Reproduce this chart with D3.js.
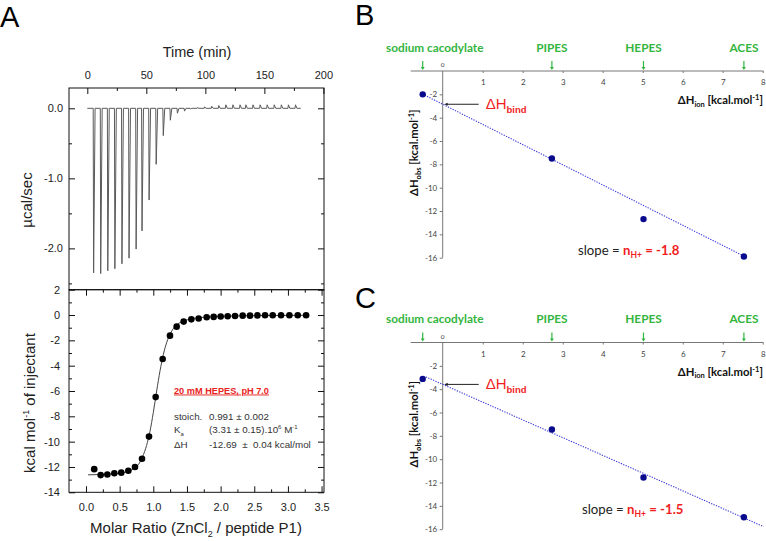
<!DOCTYPE html>
<html><head><meta charset="utf-8">
<script src="https://cdn.jsdelivr.net/npm/d3@7"></script>
<style>
body{margin:0;background:#fff}
svg{display:block}
text{white-space:pre}
</style>
</head><body>
<svg id="c" width="766" height="541"></svg>
<script>
// ---------- DATA ----------
// Panel A, raw ITC trace
const injTimes = [5,11,17,23,29,35,41,46,52,58,64,70,76,82,87,93,99,105,111,117,123,129,134,140,146,152,158,164,170,176];
const injPeaks = [-2.35,-2.36,-2.32,-2.29,-2.22,-2.14,-2.01,-1.75,-1.31,-0.80,-0.39,-0.17,-0.07,-0.04,-0.01,0.01,0.02,0.03,0.04,0.05,0.05,0.05,0.05,0.05,0.05,0.05,0.05,0.05,0.05,0.05];
const traceEnd = 180.8;
const timeTicks = [0,50,100,150,200];
const timeMinor = [25,75,125,175];
const ucalTicks = [0,-1,-2];
const ucalMinor = [-0.5,-1.5,-2.5];
// Panel A, integrated heats
const molarRatio = [0.122,0.218,0.317,0.421,0.524,0.629,0.728,0.832,0.936,1.035,1.139,1.248,1.347,1.451,1.565,1.674,1.793,1.897,2.001,2.105,2.214,2.328,2.437,2.546,2.660,2.774,2.898,3.022,3.146,3.270];
const heatPerMol = [-12.17,-12.64,-12.6,-12.5,-12.45,-12.3,-12.0,-11.35,-9.6,-6.48,-3.47,-1.63,-0.92,-0.52,-0.34,-0.28,-0.18,-0.15,-0.12,-0.10,-0.08,-0.05,-0.05,-0.03,-0.02,-0.02,-0.02,-0.02,-0.02,-0.02];
const fitRatio = [0.03,0.2,0.4,0.55,0.65,0.72,0.78,0.84,0.9,0.95,1.0,1.05,1.1,1.15,1.2,1.25,1.3,1.38,1.46,1.55,1.7,1.9,2.2,2.6,3.0,3.27];
const fitHeat = [-12.62,-12.6,-12.55,-12.45,-12.3,-12.1,-11.8,-11.2,-10.3,-9.2,-7.7,-6.0,-4.4,-3.1,-2.15,-1.5,-1.05,-0.65,-0.45,-0.32,-0.2,-0.12,-0.07,-0.04,-0.03,-0.02];
const ratioTicks = [0,0.5,1,1.5,2,2.5,3,3.5];
const ratioMinor = [0.25,0.75,1.25,1.75,2.25,2.75,3.25];
const kcalTicks = [2,0,-2,-4,-6,-8,-10,-12,-14];
const kcalMinor = [1,-1,-3,-5,-7,-9,-11,-13];
// Panels B and C
const buffers = ["sodium cacodylate","PIPES","HEPES","ACES"];
const dHion = [-0.5,2.73,5.02,7.53];
const dHobsB = [-2.0,-7.5,-12.69,-15.9];
const dHobsC = [-3.12,-7.45,-11.57,-14.97];
const fitBx = [-0.45,7.55], fitBy = [-2.07,-15.9];
const fitCx = [-0.42,8.02], fitCy = [-2.95,-15.78];
const dHbindB = -2.85, dHbindC = -3.59;
const ionTicks = [1,2,3,4,5,6,7,8];
const obsTicks = [-2,-4,-6,-8,-10,-12,-14,-16];

// ---------- DRAW ----------
const svg = d3.select("#c");
const FA = "'Liberation Sans', Arial, sans-serif";
const FB = "Lato, 'Open Sans', sans-serif";
const fmt1 = d => d.toFixed(1);
const fmt0 = d => String(d);

function styleAxis(g, size, color){
  g.select(".domain").remove();
  g.selectAll(".tick line").attr("stroke", "#111").attr("stroke-width", 1);
  g.selectAll("text").attr("font-family", FA).attr("font-size", size).attr("fill", color || "#222");
}

// Panel letters
[["A",0,27],["B",355,25],["C",355,308]].forEach(([t,x,y])=>{
  svg.append("text").attr("x",x).attr("y",y).attr("font-family",FA).attr("font-size",29).attr("fill","#000").text(t);
});

// ---- Panel A scales ----
const xT = d3.scaleLinear().domain([-15.5,200.5]).range([69,324]);
const yT = d3.scaleLinear().domain([-2.59,0.29]).range([289.7,88]);
const xM = d3.scaleLinear().domain([-0.2526,3.536]).range([69,324]);
const yM = d3.scaleLinear().domain([-14,2]).range([492.3,289.7]);

// top panel axes
let g = svg.append("g").attr("transform","translate(0,88)")
  .call(d3.axisTop(xT).tickValues(timeTicks).tickSize(-6).tickPadding(9).tickFormat(fmt0));
styleAxis(g, 11);
g = svg.append("g").attr("transform","translate(0,88)")
  .call(d3.axisTop(xT).tickValues(timeMinor).tickSize(-3).tickFormat(""));
styleAxis(g, 11);
g = svg.append("g").attr("transform","translate(69,0)")
  .call(d3.axisLeft(yT).tickValues(ucalTicks).tickSize(-6).tickPadding(6).tickFormat(fmt1));
styleAxis(g, 11);
g = svg.append("g").attr("transform","translate(69,0)")
  .call(d3.axisLeft(yT).tickValues(ucalMinor).tickSize(-3).tickFormat(""));
styleAxis(g, 11);
g = svg.append("g").attr("transform","translate(324,0)")
  .call(d3.axisRight(yT).tickValues(ucalTicks).tickSize(-6).tickFormat(""));
styleAxis(g, 11);
g = svg.append("g").attr("transform","translate(324,0)")
  .call(d3.axisRight(yT).tickValues(ucalMinor).tickSize(-3).tickFormat(""));
styleAxis(g, 11);

// trace
const trace = [[0,0]];
injTimes.forEach((t,i)=>{ trace.push([t,0],[t+0.35,injPeaks[i]],[t+1.6,0]); });
trace.push([traceEnd,0]);
svg.append("path").datum(trace)
  .attr("d", d3.line().x(d=>xT(d[0])).y(d=>yT(d[1])))
  .attr("fill","none").attr("stroke","#5a5a5a").attr("stroke-width",1);

// ---- Panel A bottom ----
g = svg.append("g").attr("transform","translate(0,492.3)")
  .call(d3.axisBottom(xM).tickValues(ratioTicks).tickSize(-6).tickPadding(11).tickFormat(fmt1));
styleAxis(g, 11);
g = svg.append("g").attr("transform","translate(0,492.3)")
  .call(d3.axisBottom(xM).tickValues(ratioMinor).tickSize(-3).tickFormat(""));
styleAxis(g, 11);
g = svg.append("g").attr("transform","translate(0,289.7)")
  .call(d3.axisTop(xM).tickValues(ratioTicks).tickSize(-6).tickFormat(""));
styleAxis(g, 11);
g = svg.append("g").attr("transform","translate(0,289.7)")
  .call(d3.axisTop(xM).tickValues(ratioMinor).tickSize(-3).tickFormat(""));
styleAxis(g, 11);
g = svg.append("g").attr("transform","translate(69,0)")
  .call(d3.axisLeft(yM).tickValues(kcalTicks).tickSize(-6).tickPadding(9).tickFormat(fmt0));
styleAxis(g, 11);
g = svg.append("g").attr("transform","translate(69,0)")
  .call(d3.axisLeft(yM).tickValues(kcalMinor).tickSize(-3).tickFormat(""));
styleAxis(g, 11);
g = svg.append("g").attr("transform","translate(324,0)")
  .call(d3.axisRight(yM).tickValues(kcalTicks).tickSize(-6).tickFormat(""));
styleAxis(g, 11);
g = svg.append("g").attr("transform","translate(324,0)")
  .call(d3.axisRight(yM).tickValues(kcalMinor).tickSize(-3).tickFormat(""));
styleAxis(g, 11);

// frames
svg.append("rect").attr("x",69).attr("y",88).attr("width",255).attr("height",201.7)
  .attr("fill","none").attr("stroke","#111").attr("stroke-width",1);
svg.append("rect").attr("x",69).attr("y",289.7).attr("width",255).attr("height",202.6)
  .attr("fill","none").attr("stroke","#111").attr("stroke-width",1);

// fit line
svg.append("path").datum(fitRatio.map((r,i)=>[r,fitHeat[i]]))
  .attr("d", d3.line().x(d=>xM(d[0])).y(d=>yM(d[1])).curve(d3.curveMonotoneX))
  .attr("fill","none").attr("stroke","#444").attr("stroke-width",1);
// points
svg.append("g").selectAll("circle").data(molarRatio).join("circle")
  .attr("cx", d=>xM(d)).attr("cy",(d,i)=>yM(heatPerMol[i])).attr("r",3.3).attr("fill","#000");

// axis titles
svg.append("text").attr("x",197).attr("y",57).attr("text-anchor","middle")
  .attr("font-family",FA).attr("font-size",14.5).attr("fill","#222").text("Time (min)");
svg.append("text").attr("transform","translate(32,200) rotate(-90)").attr("text-anchor","middle")
  .attr("font-family",FA).attr("font-size",15).attr("fill","#222").text("µcal/sec");
let tt = svg.append("text").attr("transform","translate(35,403) rotate(-90)").attr("text-anchor","middle")
  .attr("font-family",FA).attr("font-size",15).attr("fill","#222");
tt.append("tspan").text("kcal mol");
tt.append("tspan").attr("font-size",9).attr("dy",-6).text("-1");
tt.append("tspan").attr("dy",6).text(" of injectant");
tt = svg.append("text").attr("x",196).attr("y",533).attr("text-anchor","middle")
  .attr("font-family",FA).attr("font-size",15).attr("fill","#222");
tt.append("tspan").text("Molar Ratio (ZnCl");
tt.append("tspan").attr("font-size",9).attr("dy",4).text("2");
tt.append("tspan").attr("dy",-4).text(" / peptide P1)");

// annotation
svg.append("text").attr("x",174).attr("y",393.5).attr("font-family",FA).attr("font-size",9.2)
  .attr("font-weight","bold").attr("fill","#e8231c").attr("text-decoration","underline")
  .text("20 mM HEPES, pH 7.0");
const annY = [419.5,433,447.5];
const ann = svg.append("g").attr("font-family",FA).attr("font-size",9.8).attr("fill","#333");
ann.append("text").attr("x",174).attr("y",annY[0]).text("stoich.");
ann.append("text").attr("x",209).attr("y",annY[0]).text("0.991 ± 0.002");
tt = ann.append("text").attr("x",174).attr("y",annY[1]);
tt.append("tspan").text("K");
tt.append("tspan").attr("font-size",6).attr("dy",3).text("a");
tt = ann.append("text").attr("x",209).attr("y",annY[1]);
tt.append("tspan").text("(3.31 ± 0.15).10");
tt.append("tspan").attr("font-size",6).attr("dy",-4).text("6");
tt.append("tspan").attr("dy",4).text(" M");
tt.append("tspan").attr("font-size",6).attr("dy",-4).text("-1");
ann.append("text").attr("x",174).attr("y",annY[2]).text("ΔH");
ann.append("text").attr("x",209).attr("y",annY[2]).text("-12.69  ±  0.04 kcal/mol");

// ---- Panels B and C ----
const xS = d3.scaleLinear().domain([0,8]).range([442.7,762.7]);
const green = "#33b540", blue = "#0a0a8c", red = "#f01e1e";

function panel(y0, obs, fx, fy, bind, slopeVal, slopeX, slopeY){
  const yS = d3.scaleLinear().domain([0,-16]).range([y0, y0+186.7]);
  const P = svg.append("g");
  P.append("line").attr("x1",xS(-0.8)).attr("x2",xS(8.02)).attr("y1",y0).attr("y2",y0)
    .attr("stroke","#777").attr("stroke-width",1);
  P.append("line").attr("x1",xS(0)).attr("x2",xS(0)).attr("y1",y0).attr("y2",yS(-16))
    .attr("stroke","#777").attr("stroke-width",1);
  let a = P.append("g").attr("transform",`translate(0,${y0})`)
    .call(d3.axisBottom(xS).tickValues(ionTicks).tickSize(2).tickPadding(6.5).tickFormat(fmt0));
  a.select(".domain").remove();
  a.selectAll(".tick line").attr("stroke","#777");
  a.selectAll("text").attr("font-family",FB).attr("font-size",8).attr("fill","#444");
  P.append("text").attr("x",xS(0)).attr("y",y0-4).attr("text-anchor","middle")
    .attr("font-family",FB).attr("font-size",6.5).attr("fill","#444").text("0");
  a = P.append("g").attr("transform",`translate(${xS(0)},0)`)
    .call(d3.axisLeft(yS).tickValues(obsTicks).tickSize(3).tickPadding(2.5).tickFormat(fmt0));
  a.select(".domain").remove();
  a.selectAll(".tick line").attr("stroke","#777");
  a.selectAll("text").attr("font-family",FB).attr("font-size",8).attr("fill","#444");

  // buffer labels and arrows
  buffers.forEach((b,i)=>{
    const ax = xS(dHion[i]);
    const t = P.append("text").attr("y",y0-19.5).attr("text-anchor","middle")
      .attr("font-family",FB).attr("font-size",11.8).attr("font-weight","bold").attr("fill",green).text(b);
    const w = t.node().getComputedTextLength();
    t.attr("x", Math.max(ax, 386 + w/2));
    P.append("line").attr("x1",ax).attr("x2",ax).attr("y1",y0-10).attr("y2",y0-3)
      .attr("stroke",green).attr("stroke-width",1.2);
    P.append("path").attr("d",`M${ax-2},${y0-4}L${ax+2},${y0-4}L${ax},${y0-1}Z`).attr("fill",green);
  });

  // axis titles
  let t = P.append("text").attr("x",763).attr("y",y0+33).attr("text-anchor","end")
    .attr("font-family",FB).attr("font-size",11.3).attr("font-weight","bold").attr("fill","#111");
  t.append("tspan").text("ΔH");
  t.append("tspan").attr("font-size",7.5).attr("dy",2.5).text("ion");
  t.append("tspan").attr("dy",-2.5).text(" [kcal.mol");
  t.append("tspan").attr("font-size",7.5).attr("dy",-4).text("-1");
  t.append("tspan").attr("dy",4).text("]");
  t = P.append("text").attr("transform",`translate(418,${yS(-7)}) rotate(-90)`).attr("text-anchor","middle")
    .attr("font-family",FB).attr("font-size",11.3).attr("font-weight","bold").attr("fill","#111");
  t.append("tspan").text("ΔH");
  t.append("tspan").attr("font-size",7.5).attr("dy",2.5).text("obs");
  t.append("tspan").attr("dy",-2.5).text(" [kcal.mol");
  t.append("tspan").attr("font-size",7.5).attr("dy",-4).text("-1");
  t.append("tspan").attr("dy",4).text("]");

  // fit line
  P.append("line").attr("x1",xS(fx[0])).attr("y1",yS(fy[0])).attr("x2",xS(fx[1])).attr("y2",yS(fy[1]))
    .attr("stroke","#3a3ad8").attr("stroke-width",1.1).attr("stroke-dasharray","1.3,1.3");
  // points
  P.selectAll("circle.pt").data(obs).join("circle").attr("class","pt")
    .attr("cx",(d,i)=>xS(dHion[i])).attr("cy",d=>yS(d)).attr("r",3.2).attr("fill",blue);

  // ΔHbind arrow
  const by = yS(bind);
  P.append("line").attr("x1",xS(0)+4).attr("x2",xS(0)+36).attr("y1",by).attr("y2",by)
    .attr("stroke","#222").attr("stroke-width",1);
  P.append("path").attr("d",`M${xS(0)+1.5},${by}L${xS(0)+5},${by-1.6}L${xS(0)+5},${by+1.6}Z`).attr("fill","#222");
  t = P.append("text").attr("x",xS(0)+43).attr("y",by+5).attr("font-family",FA)
    .attr("font-size",15).attr("fill",red);
  t.append("tspan").text("ΔH");
  t.append("tspan").attr("font-size",9.5).attr("font-weight","bold").attr("dy",3.5).text("bind");

  // slope
  t = P.append("text").attr("x",slopeX).attr("y",slopeY).attr("font-family",FB).attr("font-size",13.2).attr("fill","#222");
  t.append("tspan").text("slope = ");
  t.append("tspan").attr("fill",red).attr("font-weight","bold").text("n");
  t.append("tspan").attr("fill",red).attr("font-weight","bold").attr("font-size",8.5).attr("dy",3).text("H+");
  t.append("tspan").attr("fill",red).attr("font-weight","bold").attr("dy",-3).text(" = " + slopeVal);
}
panel(71, dHobsB, fitBx, fitBy, dHbindB, "-1.8", 578, 255);
panel(342.5, dHobsC, fitCx, fitCy, dHbindC, "-1.5", 582, 513.5);
</script>
</body></html>
